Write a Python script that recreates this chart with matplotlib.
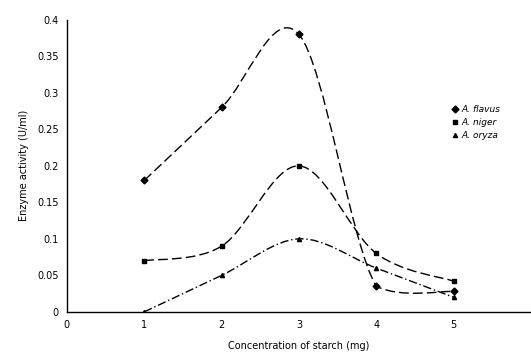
import numpy as np
import matplotlib
matplotlib.use('Agg')
import matplotlib.pyplot as plt
from matplotlib.path import Path
from matplotlib.patches import PathPatch

conc = [1, 2, 3, 4, 5]
flavus = [0.18, 0.28, 0.38, 0.035, 0.028]
niger = [0.07, 0.09, 0.2, 0.08, 0.042]
oryza = [0.0, 0.05, 0.1, 0.06, 0.02]

names = ['A. flavus', 'A. niger', 'A. oryza']
markers = ['D', 's', '^']
msizes = [3.5, 3.5, 3]
dashes = [(7, 3), (7, 3), (6, 2, 1, 2)]


def smooth_path(x, y):
    # bezier through the points, like the spreadsheet "smoothed line"
    x = np.asarray(x, float)
    y = np.asarray(y, float)
    verts = [(x[0], y[0])]
    codes = [Path.MOVETO]
    n = len(x)
    for i in range(n - 1):
        p0 = (x[max(i - 1, 0)], y[max(i - 1, 0)])
        p1 = (x[i], y[i])
        p2 = (x[i + 1], y[i + 1])
        p3 = (x[min(i + 2, n - 1)], y[min(i + 2, n - 1)])
        c1 = (p1[0] + (p2[0] - p0[0]) / 6, p1[1] + (p2[1] - p0[1]) / 6)
        c2 = (p2[0] - (p3[0] - p1[0]) / 6, p2[1] - (p3[1] - p1[1]) / 6)
        # keep the curve from diving below both ends
        lo = min(p1[1], p2[1])
        c1 = (c1[0], max(c1[1], lo - 0.01))
        c2 = (c2[0], max(c2[1], lo - 0.01))
        verts += [c1, c2, p2]
        codes += [Path.CURVE4] * 3
    return Path(verts, codes)


fig = plt.figure(figsize=(5.31, 3.54), dpi=100)
ax = fig.add_axes([0.126, 0.119, 0.874, 0.825])

for ys, nm, mk, ms, ds in zip([flavus, niger, oryza], names, markers, msizes, dashes):
    patch = PathPatch(smooth_path(conc, ys), facecolor='none', edgecolor='black',
                      lw=1.0, linestyle=(0, ds))
    ax.add_patch(patch)
    ax.plot(conc, ys, linestyle='none', marker=mk, ms=ms, color='black', label=nm)

ax.set_xlim(0, 6)
ax.set_ylim(0, 0.4)
ax.set_xticks([0, 1, 2, 3, 4, 5])
ax.set_yticks([0, 0.05, 0.1, 0.15, 0.2, 0.25, 0.3, 0.35, 0.4])
ax.set_yticklabels(['0', '0.05', '0.1', '0.15', '0.2', '0.25', '0.3', '0.35', '0.4'])
ax.tick_params(length=0, labelsize=7, pad=6)
for s in ['top', 'right']:
    ax.spines[s].set_visible(False)
ax.spines['left'].set_linewidth(1.0)
ax.spines['bottom'].set_linewidth(1.0)

ax.set_xlabel('Concentration of starch (mg)', size=7, labelpad=8)
ax.set_ylabel('Enzyme activity (U/ml)', size=7, labelpad=6)

leg = ax.legend(loc='upper left', bbox_to_anchor=(0.82, 0.72), frameon=False,
                prop={'size': 6.5, 'style': 'italic'}, handletextpad=0.3,
                labelspacing=0.45, handlelength=0.8, borderaxespad=0)

plt.savefig('out.png', dpi=100)
